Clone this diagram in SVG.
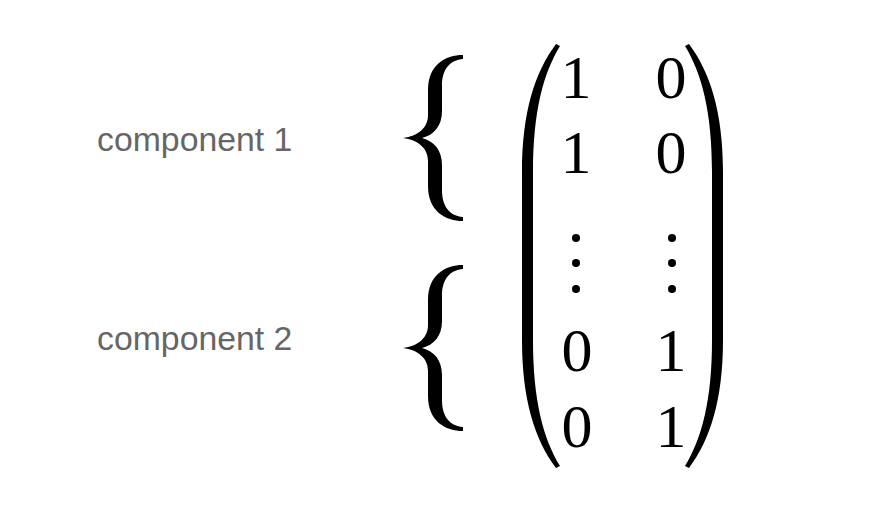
<svg xmlns="http://www.w3.org/2000/svg" width="894" height="510" viewBox="0 0 894 510">
<style>
.lbl{font-family:"Liberation Sans",Arial,sans-serif;font-size:33.8px;fill:#666666}
.num{font-family:"Liberation Serif","Times New Roman",serif;font-size:62px;fill:#000000;text-anchor:middle}
.ink{fill:#000000}
</style>
<defs>
<path id="brace" d="M 463 55 C 445 55 428 65 428 90 L 428 115 C 428 128 418 136 403 138 C 418 140 428 148 428 161 L 428 186 C 428 211 445 221 463 221 L 463 217 C 450 216 442 207 442 190 L 442 165 C 442 150 434 141 422 138 C 434 135 442 126 442 111 L 442 86 C 442 69 450 60 463 59 Z"/>
<path id="paren" d="M 556 44 C 535 72 522 112 522 172 L 522 340 C 522 400 535 440 556 468 L 560 466 C 543 438 533 400 533 340 L 533 172 C 533 112 543 74 560 46 Z"/>
</defs>
<rect width="894" height="510" fill="#ffffff"/>
<g id="label-component-1"><text class="lbl" x="97" y="150.5">component 1</text></g>
<g id="label-component-2"><text class="lbl" x="97" y="349.5">component 2</text></g>
<g id="brace-1"><use href="#brace" class="ink"/></g>
<g id="brace-2"><use href="#brace" class="ink" transform="translate(0,210)"/></g>
<g id="matrix">
<use href="#paren" class="ink"/>
<use href="#paren" class="ink" transform="translate(1245,0) scale(-1,1)"/>
<text class="num" x="576" y="98">1</text>
<text class="num" x="671" y="98">0</text>
<text class="num" x="576" y="173">1</text>
<text class="num" x="671" y="173">0</text>
<circle class="ink" cx="576" cy="238" r="4"/>
<circle class="ink" cx="576" cy="263" r="4"/>
<circle class="ink" cx="576" cy="289" r="4"/>
<circle class="ink" cx="672" cy="238" r="4"/>
<circle class="ink" cx="672" cy="263" r="4"/>
<circle class="ink" cx="672" cy="289" r="4"/>
<text class="num" x="577" y="371">0</text>
<text class="num" x="671" y="371">1</text>
<text class="num" x="577" y="447">0</text>
<text class="num" x="671" y="447">1</text>
</g>
<g id="connectors"/>
</svg>
